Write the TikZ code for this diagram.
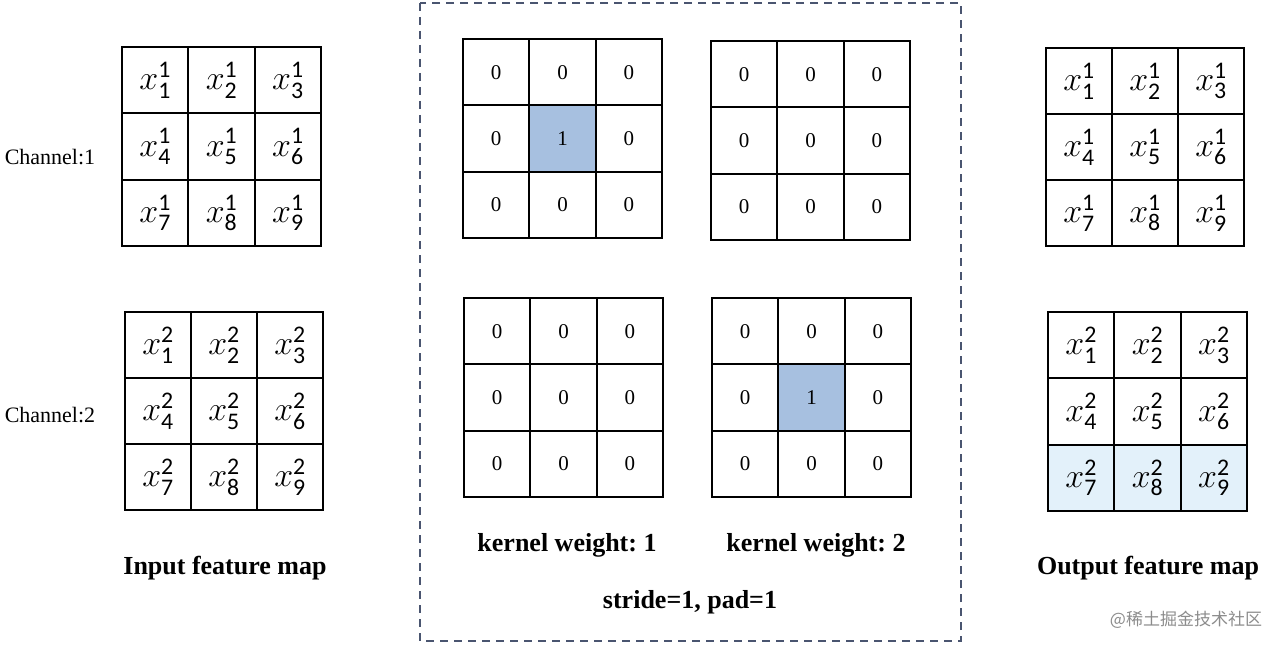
\RequirePackage{fix-cm}
\documentclass[tikz,border=0pt]{standalone}
\usepackage{amsmath}
\usepackage{fontspec}
\setmainfont{Liberation Serif}
\newfontfamily\digf{Carlito}
\newfontfamily\cjk{Noto Sans CJK SC}
\definecolor{kblue}{HTML}{A7C0E0}
\definecolor{oblue}{HTML}{E3F1FA}
\definecolor{dashc}{HTML}{4A5570}
\frenchspacing
\newcommand\dg[1]{\text{\digf #1}}
\newcommand\featgrid[5]{% name, left, top, channel, size
  \foreach \r in {0,1,2}{\foreach \c in {0,1,2}{
    \pgfmathtruncatemacro\idx{3*\r+\c+1}
    \node[fcell, minimum size=#5/3] (#1-\idx) at ({#2+(\c+0.5)*#5/3},{#3+(\r+0.5)*#5/3}) {$x^{\dg{#4}}_{\dg{\idx}}$};
  }}}
\newcommand\kgrid[4]{% name, left, top, size
  \foreach \r in {0,1,2}{\foreach \c in {0,1,2}{
    \pgfmathtruncatemacro\idx{3*\r+\c+1}
    \node[kcell, minimum size=#4/3] (#1-\idx) at ({#2+(\c+0.5)*#4/3},{#3+(\r+0.5)*#4/3}) {0};
  }}}
\begin{document}
\begin{tikzpicture}[x=1pt,y=-1pt,
  fcell/.style={draw, line width=2.1pt, inner sep=0pt, font=\fontsize{34}{36}\selectfont},
  kcell/.style={draw, line width=2.1pt, inner sep=0pt, font=\fontsize{21}{23}\selectfont},
  hot/.style={fill=kblue},
  lbl/.style={font=\fontsize{22}{24}\selectfont, inner sep=0pt},
  title/.style={font=\fontsize{26}{28}\selectfont\bfseries, inner sep=0pt},
  dashbox/.style={draw=dashc, line width=1.3pt, dash pattern=on 8pt off 6pt}]
\useasboundingbox[fill=white] (0,0) rectangle (1287,650);

% dashed frame
\draw[dashbox] (420,3) rectangle (961,641);

% input feature maps
\featgrid{in1}{122}{47}{1}{199}
\featgrid{in2}{125}{312}{2}{198}
\node[lbl] (ch1) at (50,157) {Channel:1};
\node[lbl] (ch2) at (50,415) {Channel:2};
\node[title] (intitle) at (225,568) {Input feature map};

% kernels
\kgrid{k1}{463}{39}{199}
\node[kcell, hot, minimum size=199/3] at (k1-5) {1};
\kgrid{k2}{711}{41}{199}
\kgrid{k3}{464}{298}{199}
\kgrid{k4}{712}{298}{199}
\node[kcell, hot, minimum size=199/3] at (k4-5) {1};
\node[title] (kw1) at (567,545) {kernel weight: 1};
\node[title] (kw2) at (816,545) {kernel weight: 2};
\node[title] (sp) at (690,602) {stride=1, pad=1};

% output feature maps
\featgrid{out1}{1046}{48}{1}{198}
\fill[oblue] (1048,{312+2*199/3}) rectangle (1247,511);
\featgrid{out2}{1048}{312}{2}{199}
\node[title] (outtitle) at (1148,568) {Output feature map};

% watermark text
\node[font=\cjk\fontsize{17}{19}\selectfont, text=black!45, inner sep=0pt] (wm) at (1186,620) {@稀土掘金技术社区};
\end{tikzpicture}
\end{document}
